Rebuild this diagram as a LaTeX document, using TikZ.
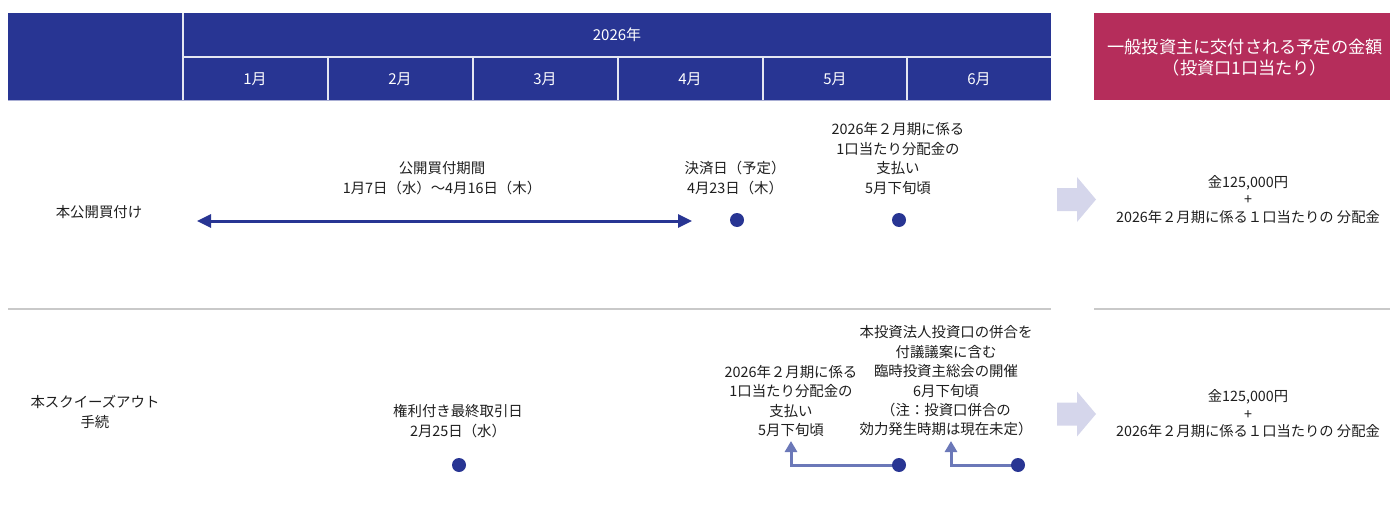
\documentclass[tikz,border=0pt]{standalone}
\usepackage{fontspec}
\setmainfont{Noto Sans CJK JP}
\usetikzlibrary{arrows.meta}
\definecolor{hdrblue}{HTML}{283593}
\definecolor{hdrpink}{HTML}{B52D5B}
\definecolor{connblue}{HTML}{6B78B8}
\definecolor{blockarrow}{HTML}{D5D6EB}
\definecolor{sepgray}{HTML}{C9C9C9}
\definecolor{txt}{HTML}{1E1E1E}
\begin{document}
\begin{tikzpicture}[x=1pt,y=-1pt,
  hdrtext/.style={text=white,font=\fontsize{15}{18}\selectfont,inner sep=0pt},
  pinktext/.style={text=white,font=\fontsize{17.2}{21}\selectfont,align=center,inner sep=0pt},
  body/.style={text=txt,font=\fontsize{14.4}{19.4}\selectfont,align=center,inner sep=0pt},
  result/.style={text=txt,font=\fontsize{14.3}{17.5}\selectfont,align=center,inner sep=0pt},
  dot/.style={circle,fill=hdrblue,draw=none,inner sep=0pt,minimum size=14pt},
  period/.style={draw=hdrblue,line width=3pt,{Triangle[length=14pt,width=13pt]}-{Triangle[length=14pt,width=13pt]}},
  conn/.style={draw=connblue,line width=3pt,-{Triangle[length=11pt,width=12pt]}},
  cellline/.style={draw=white!88!hdrblue,line width=1.5pt},
  sep/.style={draw=sepgray,line width=2pt},
  blockarr/.style={fill=blockarrow,draw=none}
]
\useasboundingbox (0,0) rectangle (1390,511);
% header
\fill[hdrblue] (8,13) rectangle (1051,100);
\draw[cellline] (183,13) -- (183,100);
\draw[cellline] (183,57) -- (1051,57);
\foreach \x in {328,473,618,763,907} \draw[cellline] (\x,57) -- (\x,100);
\draw[draw=white!60!hdrblue,line width=1pt] (8,100) -- (1051,100);
\node[hdrtext] (year) at (617,35) {2026年};
\node[hdrtext] (m1) at (255,79) {1月};
\node[hdrtext] (m2) at (400,79) {2月};
\node[hdrtext] (m3) at (545,79) {3月};
\node[hdrtext] (m4) at (690,79) {4月};
\node[hdrtext] (m5) at (835,79) {5月};
\node[hdrtext] (m6) at (979,79) {6月};
\fill[hdrpink] (1094,13) rectangle (1390,100);
\node[pinktext] (ptitle) at (1245,57.5) {一般投資主に交付される予定の金額\\（投資口1口当たり）};
% separators
\draw[sep] (8,309) -- (1051,309);
\draw[sep] (1094,309) -- (1390,309);
% row 1
\node[body] (lab1) at (99,212) {本公開買付け};
\node[body] (tob) at (442,178) {公開買付期間\\1月7日（水）～4月16日（木）};
\coordinate (tobL) at (197,221);
\coordinate (tobR) at (692,221);
\draw[period] (tobL) -- (tobR);
\node[body] (settle) at (735,178) {決済日（予定）\\4月23日（木）};
\node[dot] (d1) at (737,220) {};
\node[body] (pay1) at (898,158.5) {2026年２月期に係る\\1口当たり分配金の\\支払い\\5月下旬頃};
\node[dot] (d2) at (899,220) {};
\fill[blockarr] (1057,188) -- (1077,188) -- (1077,177) -- (1096,199.5) -- (1077,222) -- (1077,211) -- (1057,211) -- cycle;
\node[result] (res1) at (1248,199.5) {金125,000円\\+\\2026年２月期に係る１口当たりの 分配金};
% row 2
\node[body] (lab2) at (95,412) {本スクイーズアウト\\手続};
\node[body] (last) at (458,421) {権利付き最終取引日\\2月25日（水）};
\node[dot] (d3) at (459,465) {};
\node[body] (pay2) at (791,401) {2026年２月期に係る\\1口当たり分配金の\\支払い\\5月下旬頃};
\node[body] (meet) at (946,381) {本投資法人投資口の併合を\\付議議案に含む\\臨時投資主総会の開催\\6月下旬頃\\（注：投資口併合の\\効力発生時期は現在未定）};
\coordinate (c1) at (791,441);
\coordinate (c2) at (951,441);
\draw[conn] (899,465) -| (c1);
\draw[conn] (1018,465) -| (c2);
\node[dot] (d4) at (899,465) {};
\node[dot] (d5) at (1018,465) {};
\fill[blockarr] (1057,402.5) -- (1077,402.5) -- (1077,391.5) -- (1096,414) -- (1077,436.5) -- (1077,425.5) -- (1057,425.5) -- cycle;
\node[result] (res2) at (1248,414) {金125,000円\\+\\2026年２月期に係る１口当たりの 分配金};
\end{tikzpicture}
\end{document}
